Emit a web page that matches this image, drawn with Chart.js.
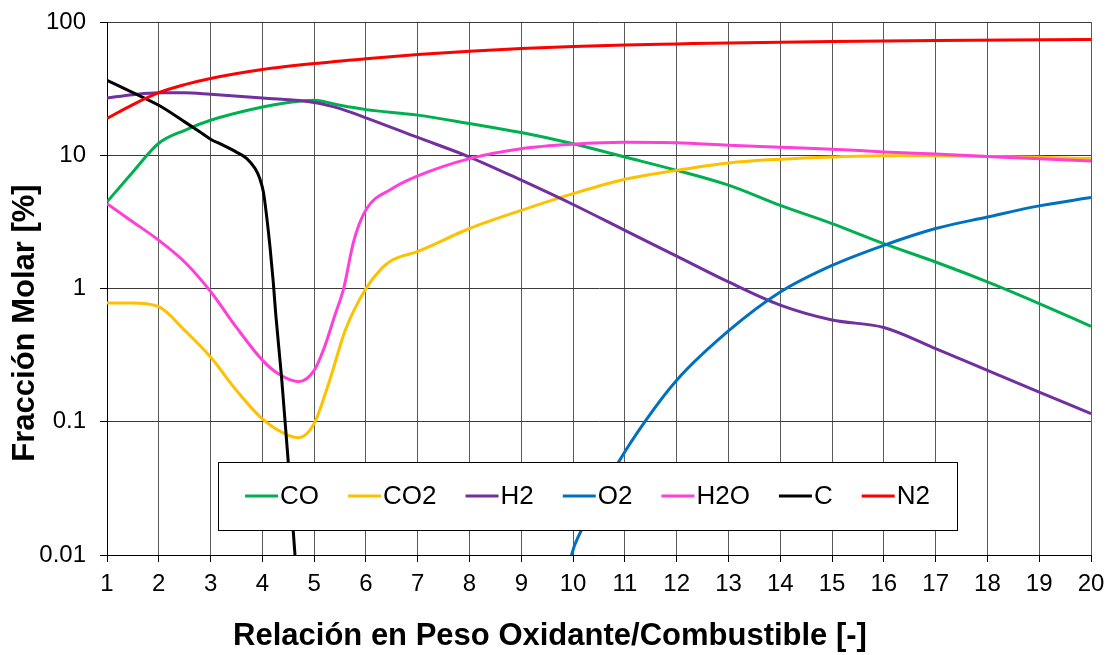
<!DOCTYPE html>
<html>
<head>
<meta charset="utf-8">
<script src="https://cdn.jsdelivr.net/npm/chart.js@4.4.1/dist/chart.umd.min.js"></script>
<style>
  html, body { margin: 0; padding: 0; background: #fff; }
  #wrap { width: 1112px; height: 655px; }
</style>
</head>
<body>
<div id="wrap"><canvas id="molarChart"></canvas></div>
<script>
// Fracción molar vs relación oxidante/combustible (log scale)
const seriesNames = ['CO', 'CO2', 'H2', 'O2', 'H2O', 'C', 'N2'];
const seriesColors = ['#00B050', '#FFC000', '#7030A0', '#0070C0', '#FF40D8', '#000000', '#FF0000'];

const coX = [1, 1.5, 2, 2.5, 3, 4, 4.5, 5, 5.5, 6, 7, 8, 9, 10, 11, 12, 13, 14, 15, 16, 17, 18, 19, 20];
const coY = [4.46, 7.5, 12.3, 15.4, 18.3, 23, 24.9, 25.9, 23.7, 22, 20, 17.3, 14.8, 12.2, 9.7, 7.7, 5.96, 4.2, 3.07, 2.17, 1.58, 1.12, 0.77, 0.52];

const co2X = [1, 1.5, 2, 2.5, 3, 3.5, 4, 4.5, 4.7, 5, 5.3, 5.6, 6, 6.3, 6.5, 7, 8, 9, 10, 11, 12, 13, 14, 15, 16, 17, 18, 19, 20];
const co2Y = [0.78, 0.78, 0.73, 0.485, 0.306, 0.172, 0.105, 0.079, 0.076, 0.097, 0.205, 0.485, 1.0, 1.41, 1.63, 1.9, 2.82, 3.86, 5.15, 6.6, 7.7, 8.75, 9.33, 9.7, 9.9, 9.9, 9.8, 9.65, 9.44];

const h2X = [1, 1.5, 2, 2.5, 3, 4, 5, 5.5, 6, 7, 8, 9, 10, 11, 12, 13, 14, 15, 16, 17, 18, 19, 20];
const h2Y = [26.9, 28.5, 29.5, 29.5, 28.7, 26.9, 24.9, 22.4, 19.1, 13.6, 9.7, 6.5, 4.27, 2.73, 1.75, 1.12, 0.75, 0.58, 0.51, 0.354, 0.243, 0.167, 0.115];

const o2X = [9.9, 9.97, 10.14, 10.88, 11.4, 12, 13, 14, 15, 16, 17, 18, 19, 20];
const o2Y = [0.007, 0.01, 0.0148, 0.05, 0.102, 0.205, 0.48, 0.94, 1.49, 2.11, 2.82, 3.44, 4.17, 4.81];

const h2oX = [1, 1.5, 2, 2.5, 3, 3.5, 4, 4.3, 4.7, 5, 5.2, 5.4, 5.57, 5.76, 6, 6.5, 7, 8, 9, 10, 11, 12, 13, 14, 15, 16, 17, 18, 19, 20];
const h2oY = [4.33, 3.16, 2.3, 1.58, 0.95, 0.51, 0.29, 0.23, 0.2, 0.243, 0.364, 0.63, 1.0, 2.24, 3.9, 5.6, 7.0, 9.44, 11.2, 12.1, 12.5, 12.4, 11.9, 11.5, 11.1, 10.6, 10.2, 9.8, 9.4, 9.06];

const cX = [1, 1.5, 2, 2.5, 2.79, 3, 3.24, 3.49, 3.7, 3.86, 3.95, 4.02, 4.08, 4.15, 4.21, 4.26, 4.37, 4.5, 4.63, 4.7];
const cY = [36.5, 29.5, 23.7, 17.8, 15.0, 13.2, 11.9, 10.6, 9.44, 7.94, 6.68, 5.3, 3.55, 2.0, 1.12, 0.63, 0.217, 0.05, 0.01, 0.005];

const n2X = [1, 1.5, 2, 2.5, 3, 4, 5, 6, 7, 8, 9, 10, 11, 12, 13, 15, 17, 20];
const n2Y = [18.9, 24, 29.5, 33.9, 37.7, 44, 48.8, 53, 57, 60.4, 63.2, 65.5, 67.3, 68.5, 69.7, 71.4, 72.6, 74];

const yTicks = [0.01, 0.1, 1, 10, 100];

const xTitle = 'Relación en Peso Oxidante/Combustible [-]';
const yTitle = 'Fracción Molar [%]';

const seriesX = [coX, co2X, h2X, o2X, h2oX, cX, n2X];
const seriesY = [coY, co2Y, h2Y, o2Y, h2oY, cY, n2Y];

const FONT = 'Arial, "Liberation Sans", sans-serif';

function toPoints(xs, ys) {
    return xs.map((x, i) => ({ x: x, y: ys[i] }));
}

// Legend box drawn inside the plot area, like the original
const boxLegend = {
    id: 'boxLegend',
    afterDatasetsDraw(chart) {
        const ctx = chart.ctx;
        const area = chart.chartArea;
        const left = area.left + 111, right = area.left + 850;
        const top = area.bottom - 93, bottom = area.bottom - 25;
        ctx.save();
        ctx.fillStyle = '#fff';
        ctx.fillRect(left, top, right - left, bottom - top);
        ctx.strokeStyle = '#000';
        ctx.lineWidth = 1;
        ctx.strokeRect(left + 0.5, top + 0.5, right - left, bottom - top);

        ctx.font = '26px ' + FONT;
        const lineLen = 33, gap = 2, spacing = 29;
        const items = chart.data.datasets.map(ds => ({
            label: ds.label, color: ds.borderColor, w: ctx.measureText(ds.label).width
        }));
        let total = items.reduce((s, it) => s + lineLen + gap + it.w, 0) + spacing * (items.length - 1);
        let x = (left + right) / 2 - total / 2;
        const cy = (top + bottom) / 2;
        ctx.textBaseline = 'middle';
        items.forEach(it => {
            ctx.strokeStyle = it.color;
            ctx.lineWidth = 3;
            ctx.beginPath();
            ctx.moveTo(x, cy);
            ctx.lineTo(x + lineLen, cy);
            ctx.stroke();
            ctx.fillStyle = '#000';
            ctx.fillText(it.label, x + lineLen + gap, cy + 1);
            x += lineLen + gap + it.w + spacing;
        });
        ctx.restore();
    }
};

// Axis titles sit a little off-centre in the original, so draw them by hand
const axisTitles = {
    id: 'axisTitles',
    afterDraw(chart) {
        const ctx = chart.ctx;
        const area = chart.chartArea;
        ctx.save();
        ctx.fillStyle = '#000';
        ctx.font = 'bold 31px ' + FONT;
        ctx.textAlign = 'center';
        ctx.textBaseline = 'middle';
        ctx.fillText(xTitle, area.left + 443, area.bottom + 81);
        ctx.translate(25, area.top + 301);
        ctx.rotate(-Math.PI / 2);
        ctx.fillText(yTitle, 0, 0);
        ctx.restore();
    }
};

const datasets = seriesNames.map((name, i) => ({
    label: name,
    data: toPoints(seriesX[i], seriesY[i]),
    borderColor: seriesColors[i],
    backgroundColor: seriesColors[i],
    borderWidth: 3,
    pointRadius: 0,
    showLine: true,
    cubicInterpolationMode: 'monotone',
    order: seriesNames.length - i
}));

new Chart(document.getElementById('molarChart'), {
    type: 'scatter',
    data: { datasets: datasets },
    plugins: [boxLegend, axisTitles],
    options: {
        responsive: true,
        maintainAspectRatio: false,
        animation: false,
        layout: { padding: { left: 0, right: 21, top: 22, bottom: 0 } },
        plugins: {
            legend: { display: false },
            tooltip: { enabled: false }
        },
        scales: {
            x: {
                type: 'linear',
                min: 1,
                max: 20,
                ticks: {
                    stepSize: 1,
                    color: '#000',
                    padding: 8,
                    font: { family: FONT, size: 24 },
                    maxRotation: 0
                },
                grid: { color: '#5a5a5a', lineWidth: 1, tickLength: 7, tickColor: '#000' },
                border: { color: '#000', width: 1 },
                afterFit(scale) {
                    scale.height = 100;
                    scale.paddingLeft = 0;
                    scale.paddingRight = 0;
                }
            },
            y: {
                type: 'logarithmic',
                min: 0.01,
                max: 100,
                afterBuildTicks(scale) {
                    scale.ticks = yTicks.map(v => ({ value: v }));
                },
                ticks: {
                    color: '#000',
                    padding: 14,
                    font: { family: FONT, size: 24 },
                    callback: v => String(v)
                },
                grid: { color: '#3a3a3a', lineWidth: 1, tickLength: 7, tickColor: '#000' },
                border: { color: '#000', width: 1 },
                afterFit(scale) {
                    scale.width = 107;
                    scale.paddingTop = 0;
                    scale.paddingBottom = 0;
                }
            }
        }
    }
});
</script>
</body>
</html>
